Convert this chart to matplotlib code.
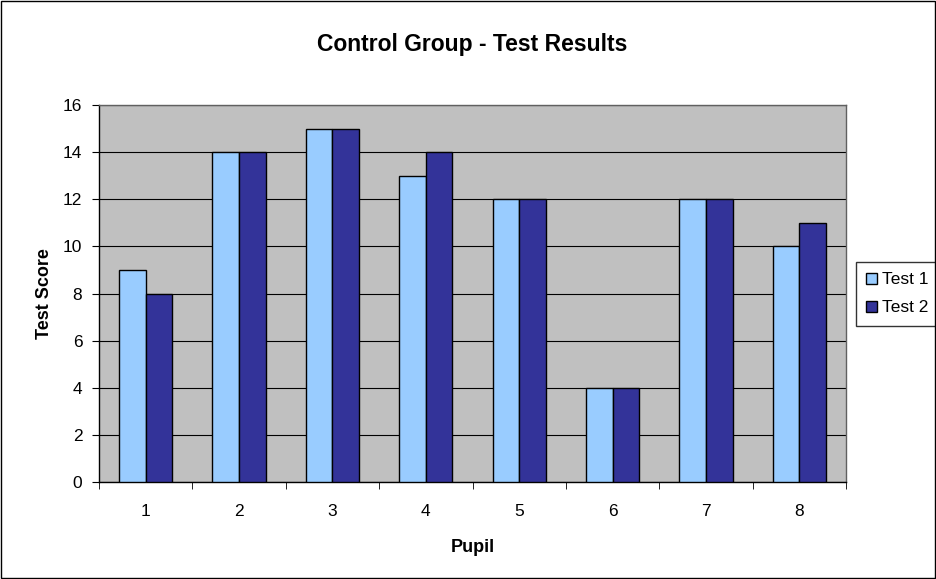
import numpy as np
import matplotlib.pyplot as plt
from matplotlib.patches import Rectangle

pupils = ["1", "2", "3", "4", "5", "6", "7", "8"]
test1 = [9, 14, 15, 13, 12, 4, 12, 10]
test2 = [8, 14, 15, 14, 12, 4, 12, 11]

plt.rcParams['font.family'] = ['Liberation Sans', 'DejaVu Sans']

fig = plt.figure(figsize=(9.36, 5.79), dpi=100)
W, H = 936, 579
ax = fig.add_axes([99 / W, 1 - 482 / H, (846 - 99) / W, (482 - 105) / H])
ax.set_facecolor('#C0C0C0')

x = np.arange(len(pupils))
bw = 1 / 3.5
ax.bar(x - bw / 2, test1, bw, color='#99CCFF', edgecolor='black', linewidth=1, label='Test 1', zorder=3)
ax.bar(x + bw / 2, test2, bw, color='#333399', edgecolor='black', linewidth=1, label='Test 2', zorder=3)

ax.set_xlim(-0.5, len(pupils) - 0.5)
ax.set_ylim(0, 16)
ax.set_yticks(range(0, 17, 2))
ax.yaxis.grid(True, color='black', linewidth=0.8, zorder=0)
ax.set_xticks(x)
ax.set_xticklabels(pupils)
ax.set_xticks(np.arange(-0.5, len(pupils), 1), minor=True)
ax.tick_params(axis='x', which='major', length=0, pad=16, labelsize=12.5)
ax.tick_params(axis='x', which='minor', length=5, color='black', direction='out')
ax.tick_params(axis='y', length=5, color='black', labelsize=12.5, pad=7)
for s in ax.spines.values():
    s.set_color('#606060')
    s.set_linewidth(1)
ax.spines['bottom'].set_color('black')
ax.spines['left'].set_color('black')

ax.set_title('Control Group - Test Results', fontsize=16.5, fontweight='bold', pad=39)
ax.set_xlabel('Pupil', fontsize=13, fontweight='bold', labelpad=14)
ax.set_ylabel('Test Score', fontsize=13, fontweight='bold', labelpad=7)

leg = ax.legend(loc='upper left', bbox_to_anchor=(856 / W, 1 - 262 / H), bbox_transform=fig.transFigure,
                frameon=True, fancybox=False, fontsize=12.5, handlelength=0.6, handleheight=0.6,
                handletextpad=0.3, borderpad=0.6, labelspacing=0.75, borderaxespad=0)
leg.get_frame().set_edgecolor('black')
leg.get_frame().set_linewidth(1)

fig.patches.append(Rectangle((0.001, 0.001), 0.998, 0.998, transform=fig.transFigure,
                             fill=False, edgecolor='black', linewidth=1))

fig.savefig('out.png', dpi=100)
